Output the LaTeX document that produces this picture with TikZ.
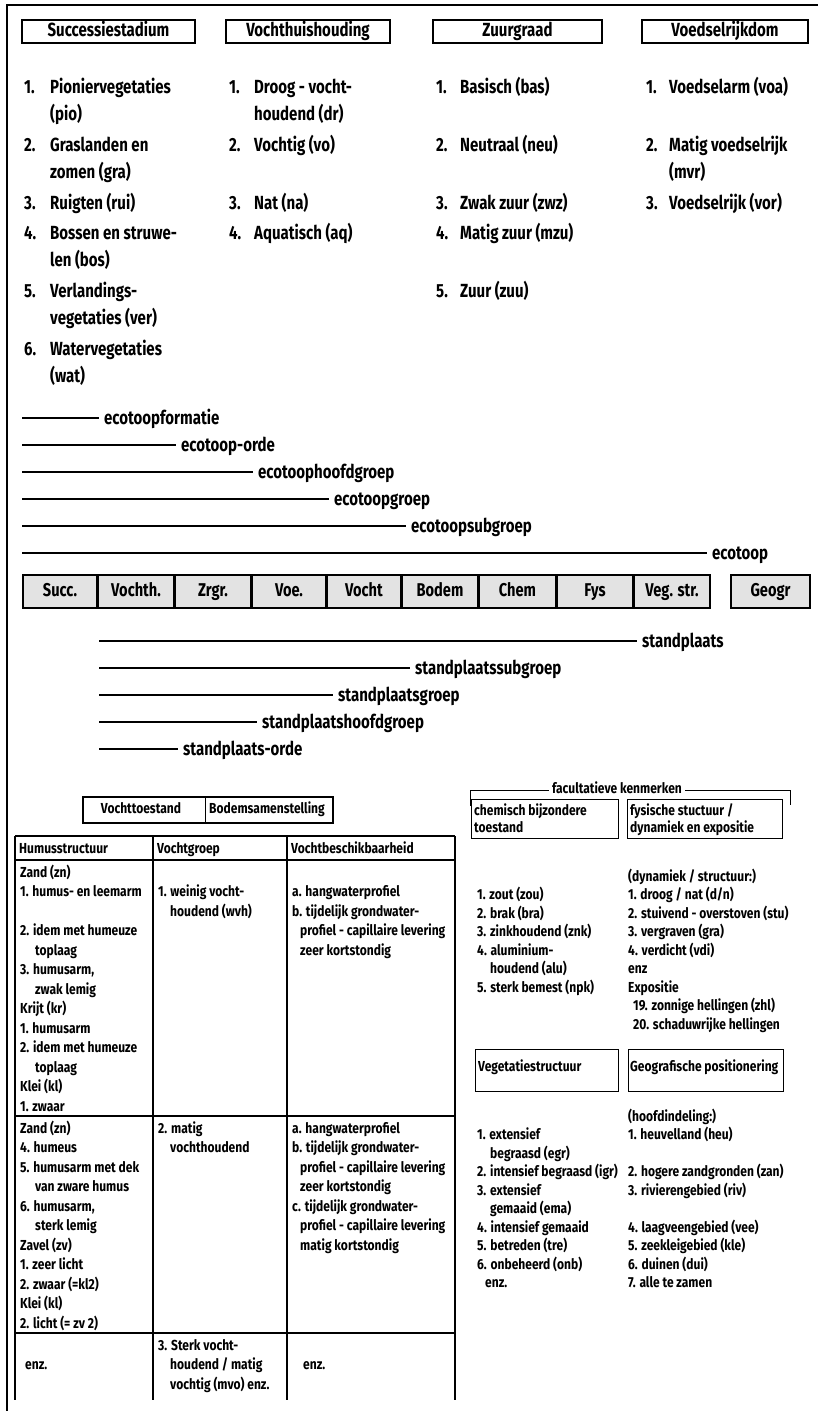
\documentclass[tikz,border=0pt]{standalone}
\usepackage{fontspec}
\setmainfont{Fira Sans}[FakeStretch=0.79]
\newfontfamily\bfam{Fira Sans}[FakeStretch=0.83]
\newcommand\TT[4]{\node[tt] (#1) at (#2,#3) {#4};}
\newcommand\BT[4]{\node[bt] (#1) at (#2,#3) {#4};}
\tikzset{
  tt/.style={anchor=base west, inner sep=0pt, yshift=-6.6pt, font=\fontsize{19}{23}\selectfont\bfseries},
  bt/.style={anchor=base west, inner sep=0pt, yshift=-5pt, font=\bfam\fontsize{14.5}{17}\selectfont\bfseries},
  hbox/.style={draw, line width=1.1pt, inner sep=0pt, minimum height=23pt, text height=13.5pt, text depth=4pt, font=\fontsize{19}{23}\selectfont\bfseries},
  barbox/.style={draw, line width=1.1pt, fill=gray!22, inner sep=0pt, minimum height=33pt, text height=13pt, text depth=4pt, font=\fontsize{18.5}{22}\selectfont\bfseries},
  sbox/.style={draw, line width=1.1pt, inner sep=0pt},
  lvl/.style={line width=1.5pt},
  frame/.style={line width=1.6pt},
  tab/.style={line width=1.4pt},
  ctext/.style={inner sep=0pt, text height=10pt, text depth=3pt, font=\bfam\fontsize{14.5}{17}\selectfont\bfseries},
}
\begin{document}
\begin{tikzpicture}[x=1pt,y=-1pt]
\useasboundingbox (0,0) rectangle (818,1411);
\fill[white] (0,0) rectangle (818,1411);
% frame
\coordinate (fA) at (7,1411); \coordinate (fB) at (7,5); \coordinate (fC) at (818,5);
\draw[frame] (fA) -- (fB) -- (fC);
% header boxes
\node[hbox, minimum width=173pt] (h1) at (108.5,31.5) {Successiestadium};
\node[hbox, minimum width=164pt] (h2) at (308,31.5) {Vochthuishouding};
\node[hbox, minimum width=169pt] (h3) at (517.5,31.5) {Zuurgraad};
\node[hbox, minimum width=166pt] (h4) at (725,31.5) {Voedselrijkdom};
% column 1
\TT{a1n}{24}{87}{1.} \TT{a1a}{50}{87}{Pioniervegetaties} \TT{a1b}{50}{114}{(pio)}
\TT{a2n}{24}{145}{2.} \TT{a2a}{50}{145}{Graslanden en} \TT{a2b}{50}{172}{zomen (gra)}
\TT{a3n}{24}{203}{3.} \TT{a3a}{50}{203}{Ruigten (rui)}
\TT{a4n}{24}{233}{4.} \TT{a4a}{50}{233}{Bossen en struwe-} \TT{a4b}{50}{260}{len (bos)}
\TT{a5n}{24}{291}{5.} \TT{a5a}{50}{291}{Verlandings-} \TT{a5b}{50}{318}{vegetaties (ver)}
\TT{a6n}{24}{349}{6.} \TT{a6a}{50}{349}{Watervegetaties} \TT{a6b}{50}{376}{(wat)}
% column 2
\TT{b1n}{229}{87}{1.} \TT{b1a}{254}{87}{Droog - vocht-} \TT{b1b}{254}{114}{houdend (dr)}
\TT{b2n}{229}{145}{2.} \TT{b2a}{254}{145}{Vochtig (vo)}
\TT{b3n}{229}{203}{3.} \TT{b3a}{254}{203}{Nat (na)}
\TT{b4n}{229}{233}{4.} \TT{b4a}{254}{233}{Aquatisch (aq)}
% column 3
\TT{c1n}{436}{87}{1.} \TT{c1a}{460}{87}{Basisch (bas)}
\TT{c2n}{436}{145}{2.} \TT{c2a}{460}{145}{Neutraal (neu)}
\TT{c3n}{436}{203}{3.} \TT{c3a}{460}{203}{Zwak zuur (zwz)}
\TT{c4n}{436}{233}{4.} \TT{c4a}{460}{233}{Matig zuur (mzu)}
\TT{c5n}{436}{291}{5.} \TT{c5a}{460}{291}{Zuur (zuu)}
% column 4
\TT{d1n}{646}{87}{1.} \TT{d1a}{669}{87}{Voedselarm (voa)}
\TT{d2n}{646}{145}{2.} \TT{d2a}{669}{145}{Matig voedselrijk} \TT{d2b}{669}{172}{(mvr)}
\TT{d3n}{646}{203}{3.} \TT{d3a}{669}{203}{Voedselrijk (vor)}
% ecotoop levels
\coordinate (e1s) at (22,418); \TT{e1}{104}{418}{ecotoopformatie}
\coordinate (e2s) at (22,445); \TT{e2}{181}{445}{ecotoop-orde}
\coordinate (e3s) at (22,472); \TT{e3}{258}{472}{ecotoophoofdgroep}
\coordinate (e4s) at (22,499); \TT{e4}{334}{499}{ecotoopgroep}
\coordinate (e5s) at (22,526); \TT{e5}{411}{526}{ecotoopsubgroep}
\coordinate (e6s) at (22,553); \TT{e6}{712}{553}{ecotoop}
\foreach \i in {1,...,6} {\draw[lvl] (e\i s) -- ([xshift=-5pt]e\i s -| e\i.west);}
% bar
\foreach \n/\xa/\xb/\t in {1/23/97/Succ., 2/98/174/Vochth., 3/175/251/Zrgr., 4/252/326/Voe., 5/327/401/Vocht, 6/402/478/Bodem, 7/479/556/Chem, 8/557/633/Fys, 9/634/710/Veg. str., 10/731/810/Geogr}
{\pgfmathsetmacro\w{\xb-\xa}\pgfmathsetmacro\xc{(\xa+\xb)/2}
 \node[barbox, minimum width=\w pt] (bar\n) at (\xc,591.5) {\t};}
% standplaats levels
\coordinate (s1s) at (99,641); \TT{s1}{642}{641}{standplaats}
\coordinate (s2s) at (99,668); \TT{s2}{415}{668}{standplaatssubgroep}
\coordinate (s3s) at (99,695); \TT{s3}{338}{695}{standplaatsgroep}
\coordinate (s4s) at (99,722); \TT{s4}{262}{722}{standplaatshoofdgroep}
\coordinate (s5s) at (99,749); \TT{s5}{183}{749}{standplaats-orde}
\foreach \i in {1,...,5} {\draw[lvl] (s\i s) -- ([xshift=-5pt]s\i s -| s\i.west);}
% Vochttoestand / Bodemsamenstelling
\node[sbox, minimum width=250pt, minimum height=26pt] (vbox) at (208,810) {};
\coordinate (vdt) at (205,797); \coordinate (vdb) at (205,823);
\draw[line width=0.6pt] (vdt) -- (vdb);
\node[ctext] (vt1) at (141,810) {Vochttoestand};
\node[ctext] (vt2) at (267,810) {Bodemsamenstelling};
% table lines
\draw[tab] (15,836) -- (455,836);
\draw[line width=1.1pt] (15,860) -- (455,860);
\draw[line width=1.1pt] (15,1116) -- (455,1116);
\draw[line width=1.1pt] (15,1333) -- (455,1333);
\foreach \x in {15,153,287,455} {\draw[tab] (\x,836) -- (\x,1400);}
% table header
\BT{th1}{19}{848}{Humusstructuur} \BT{th2}{157}{848}{Vochtgroep} \BT{th3}{291}{848}{Vochtbeschikbaarheid}
% row 1 col 1
\BT{r1a}{20}{872}{Zand (zn)}
\BT{r1b}{20}{891.5}{1. humus- en leemarm}
\BT{r1d}{20}{930.5}{2. idem met humeuze}
\BT{r1e}{35}{950}{toplaag}
\BT{r1f}{20}{969.5}{3. humusarm,}
\BT{r1g}{35}{989}{zwak lemig}
\BT{r1h}{20}{1008.5}{Krijt (kr)}
\BT{r1i}{20}{1028}{1. humusarm}
\BT{r1j}{20}{1047.5}{2. idem met humeuze}
\BT{r1k}{35}{1067}{toplaag}
\BT{r1l}{20}{1086.5}{Klei (kl)}
\BT{r1m}{20}{1106}{1. zwaar}
% row 1 col 2, 3
\BT{r1p}{158}{891.5}{1. weinig vocht-}
\BT{r1q}{170}{911}{houdend (wvh)}
\BT{r1s}{292}{891.5}{a. hangwaterprofiel}
\BT{r1t}{292}{911}{b. tijdelijk grondwater-}
\BT{r1u}{300}{930.5}{profiel - capillaire levering}
\BT{r1v}{300}{950}{zeer kortstondig}
% row 2 col 1
\BT{r2a}{20}{1128}{Zand (zn)}
\BT{r2b}{20}{1147.5}{4. humeus}
\BT{r2c}{20}{1167}{5. humusarm met dek}
\BT{r2d}{35}{1186.5}{van zware humus}
\BT{r2e}{20}{1206}{6. humusarm,}
\BT{r2f}{35}{1225.5}{sterk lemig}
\BT{r2g}{20}{1245}{Zavel (zv)}
\BT{r2h}{20}{1264.5}{1. zeer licht}
\BT{r2i}{20}{1284}{2. zwaar (=kl2)}
\BT{r2j}{20}{1303.5}{Klei (kl)}
\BT{r2k}{20}{1323}{2. licht (= zv 2)}
% row 2 col 2, 3
\BT{r2p}{158}{1128}{2. matig}
\BT{r2q}{170}{1147.5}{vochthoudend}
\BT{r2s}{292}{1128}{a. hangwaterprofiel}
\BT{r2t}{292}{1147.5}{b. tijdelijk grondwater-}
\BT{r2u}{300}{1167}{profiel - capillaire levering}
\BT{r2v}{300}{1186.5}{zeer kortstondig}
\BT{r2w}{292}{1206}{c. tijdelijk grondwater-}
\BT{r2x}{300}{1225.5}{profiel - capillaire levering}
\BT{r2y}{300}{1245}{matig kortstondig}
% row 3
\BT{r3a}{25}{1364.5}{enz.}
\BT{r3p}{158}{1345}{3. Sterk vocht-}
\BT{r3q}{170}{1364.5}{houdend / matig}
\BT{r3r}{170}{1384}{vochtig (mvo) enz.}
\BT{r3s}{303}{1364.5}{enz.}
% facultatieve kenmerken
\node[ctext, fill=white, inner xsep=3pt] (fk) at (617,790) {facultatieve kenmerken};
\coordinate (fkL) at (470,806); \coordinate (fkR) at (790,805);
\draw[line width=1pt] (fkL) -- (fkL |- fk) -- (fk.west);
\draw[line width=1pt] (fk.east) -- (fkR |- fk) -- (fkR);
\node[sbox, anchor=north west, minimum width=147pt, minimum height=39pt] (cbox) at (471,799) {};
\BT{cb1}{474}{810}{chemisch bijzondere} \BT{cb2}{474}{827}{toestand}
\node[sbox, anchor=north west, minimum width=155pt, minimum height=39pt] (fbox) at (627,799) {};
\BT{fb1}{630}{810}{fysische stuctuur /} \BT{fb2}{630}{827}{dynamiek en expositie}
% chem / fys lists
\BT{fy0}{628}{876}{(dynamiek / structuur:)}
\BT{ch1}{477}{894.5}{1. zout (zou)} \BT{fy1}{628}{894.5}{1. droog / nat (d/n)}
\BT{ch2}{477}{913}{2. brak (bra)} \BT{fy2}{628}{913}{2. stuivend - overstoven (stu)}
\BT{ch3}{477}{931.5}{3. zinkhoudend (znk)} \BT{fy3}{628}{931.5}{3. vergraven (gra)}
\BT{ch4}{477}{950}{4. aluminium-} \BT{fy4}{628}{950}{4. verdicht (vdi)}
\BT{ch5}{490}{968.5}{houdend (alu)} \BT{fy5}{628}{968.5}{enz}
\BT{ch6}{477}{987}{5. sterk bemest (npk)} \BT{fy6}{628}{987}{Expositie}
\BT{fy7}{633}{1005.5}{19. zonnige hellingen (zhl)}
\BT{fy8}{633}{1024}{20. schaduwrijke hellingen}
% veg / geo boxes
\node[sbox, anchor=north west, minimum width=143pt, minimum height=42pt] (vgbox) at (475,1049) {};
\BT{vg0}{478}{1066}{Vegetatiestructuur}
\node[sbox, anchor=north west, minimum width=155pt, minimum height=42pt] (gbox) at (628,1049) {};
\BT{gb0}{630}{1066}{Geografische positionering}
% veg / geo lists
\BT{gb1}{628}{1116}{(hoofdindeling:)}
\BT{vg1}{477}{1134.5}{1. extensief} \BT{gb2}{628}{1134.5}{1. heuvelland (heu)}
\BT{vg2}{490}{1153}{begraasd (egr)}
\BT{vg3}{477}{1171.5}{2. intensief begraasd (igr)} \BT{gb3}{628}{1171.5}{2. hogere zandgronden (zan)}
\BT{vg4}{477}{1190}{3. extensief} \BT{gb4}{628}{1190}{3. rivierengebied (riv)}
\BT{vg5}{490}{1208.5}{gemaaid (ema)}
\BT{vg6}{477}{1227}{4. intensief gemaaid} \BT{gb5}{628}{1227}{4. laagveengebied (vee)}
\BT{vg7}{477}{1245.5}{5. betreden (tre)} \BT{gb6}{628}{1245.5}{5. zeekleigebied (kle)}
\BT{vg8}{477}{1264}{6. onbeheerd (onb)} \BT{gb7}{628}{1264}{6. duinen (dui)}
\BT{vg9}{485}{1282.5}{enz.} \BT{gb8}{628}{1282.5}{7. alle te zamen}
\end{tikzpicture}
\end{document}
